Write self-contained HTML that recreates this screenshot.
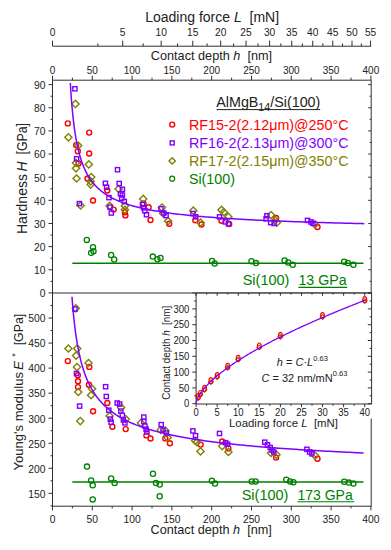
<!DOCTYPE html>
<html><head><meta charset="utf-8"><style>
html,body{margin:0;padding:0;background:#fff;width:391px;height:550px;overflow:hidden}
svg{display:block;font-family:"Liberation Sans",sans-serif}
</style></head><body>
<svg width="391" height="550" viewBox="0 0 391 550" font-family="Liberation Sans, sans-serif"><line x1="52.50" y1="46.20" x2="371.20" y2="46.20" stroke="#303030" stroke-width="1"/>
<line x1="52.50" y1="46.20" x2="52.50" y2="40.70" stroke="#303030" stroke-width="1"/>
<text x="52.50" y="36.20" font-size="10.2" fill="#222222" text-anchor="middle" >0</text>
<line x1="97.87" y1="46.20" x2="97.87" y2="43.40" stroke="#303030" stroke-width="1"/>
<line x1="122.71" y1="46.20" x2="122.71" y2="40.70" stroke="#303030" stroke-width="1"/>
<text x="122.71" y="36.20" font-size="10.2" fill="#222222" text-anchor="middle" >5</text>
<line x1="143.15" y1="46.20" x2="143.15" y2="43.40" stroke="#303030" stroke-width="1"/>
<line x1="161.16" y1="46.20" x2="161.16" y2="40.70" stroke="#303030" stroke-width="1"/>
<text x="161.16" y="36.20" font-size="10.2" fill="#222222" text-anchor="middle" >10</text>
<line x1="177.56" y1="46.20" x2="177.56" y2="43.40" stroke="#303030" stroke-width="1"/>
<line x1="192.78" y1="46.20" x2="192.78" y2="40.70" stroke="#303030" stroke-width="1"/>
<text x="192.78" y="36.20" font-size="10.2" fill="#222222" text-anchor="middle" >15</text>
<line x1="207.09" y1="46.20" x2="207.09" y2="43.40" stroke="#303030" stroke-width="1"/>
<line x1="220.66" y1="46.20" x2="220.66" y2="40.70" stroke="#303030" stroke-width="1"/>
<text x="220.66" y="36.20" font-size="10.2" fill="#222222" text-anchor="middle" >20</text>
<line x1="233.61" y1="46.20" x2="233.61" y2="43.40" stroke="#303030" stroke-width="1"/>
<line x1="246.04" y1="46.20" x2="246.04" y2="40.70" stroke="#303030" stroke-width="1"/>
<text x="246.04" y="36.20" font-size="10.2" fill="#222222" text-anchor="middle" >25</text>
<line x1="258.01" y1="46.20" x2="258.01" y2="43.40" stroke="#303030" stroke-width="1"/>
<line x1="269.59" y1="46.20" x2="269.59" y2="40.70" stroke="#303030" stroke-width="1"/>
<text x="269.59" y="36.20" font-size="10.2" fill="#222222" text-anchor="middle" >30</text>
<line x1="280.82" y1="46.20" x2="280.82" y2="43.40" stroke="#303030" stroke-width="1"/>
<line x1="291.74" y1="46.20" x2="291.74" y2="40.70" stroke="#303030" stroke-width="1"/>
<text x="291.74" y="36.20" font-size="10.2" fill="#222222" text-anchor="middle" >35</text>
<line x1="302.36" y1="46.20" x2="302.36" y2="43.40" stroke="#303030" stroke-width="1"/>
<line x1="312.73" y1="46.20" x2="312.73" y2="40.70" stroke="#303030" stroke-width="1"/>
<text x="312.73" y="36.20" font-size="10.2" fill="#222222" text-anchor="middle" >40</text>
<line x1="322.86" y1="46.20" x2="322.86" y2="43.40" stroke="#303030" stroke-width="1"/>
<line x1="332.78" y1="46.20" x2="332.78" y2="40.70" stroke="#303030" stroke-width="1"/>
<text x="332.78" y="36.20" font-size="10.2" fill="#222222" text-anchor="middle" >45</text>
<line x1="342.49" y1="46.20" x2="342.49" y2="43.40" stroke="#303030" stroke-width="1"/>
<line x1="352.01" y1="46.20" x2="352.01" y2="40.70" stroke="#303030" stroke-width="1"/>
<text x="352.01" y="36.20" font-size="10.2" fill="#222222" text-anchor="middle" >50</text>
<line x1="361.36" y1="46.20" x2="361.36" y2="43.40" stroke="#303030" stroke-width="1"/>
<line x1="370.55" y1="46.20" x2="370.55" y2="40.70" stroke="#303030" stroke-width="1"/>
<text x="370.55" y="36.20" font-size="10.2" fill="#222222" text-anchor="middle" >55</text>
<text x="145.20" y="21.90" font-size="14" fill="#222222" text-anchor="start" xml:space="preserve">Loading force <tspan font-style="italic">L</tspan>  [mN]</text>
<text x="150.80" y="60.20" font-size="12.7" fill="#222222" text-anchor="start" xml:space="preserve">Contact depth <tspan font-style="italic">h</tspan>  [nm]</text>
<line x1="52.50" y1="80.20" x2="52.50" y2="75.70" stroke="#303030" stroke-width="1"/>
<text x="52.50" y="73.80" font-size="10" fill="#222222" text-anchor="middle" >0</text>
<line x1="72.40" y1="80.20" x2="72.40" y2="77.70" stroke="#303030" stroke-width="1"/>
<line x1="92.30" y1="80.20" x2="92.30" y2="75.70" stroke="#303030" stroke-width="1"/>
<text x="92.30" y="73.80" font-size="10" fill="#222222" text-anchor="middle" >50</text>
<line x1="112.20" y1="80.20" x2="112.20" y2="77.70" stroke="#303030" stroke-width="1"/>
<line x1="132.10" y1="80.20" x2="132.10" y2="75.70" stroke="#303030" stroke-width="1"/>
<text x="132.10" y="73.80" font-size="10" fill="#222222" text-anchor="middle" >100</text>
<line x1="152.00" y1="80.20" x2="152.00" y2="77.70" stroke="#303030" stroke-width="1"/>
<line x1="171.90" y1="80.20" x2="171.90" y2="75.70" stroke="#303030" stroke-width="1"/>
<text x="171.90" y="73.80" font-size="10" fill="#222222" text-anchor="middle" >150</text>
<line x1="191.80" y1="80.20" x2="191.80" y2="77.70" stroke="#303030" stroke-width="1"/>
<line x1="211.70" y1="80.20" x2="211.70" y2="75.70" stroke="#303030" stroke-width="1"/>
<text x="211.70" y="73.80" font-size="10" fill="#222222" text-anchor="middle" >200</text>
<line x1="231.60" y1="80.20" x2="231.60" y2="77.70" stroke="#303030" stroke-width="1"/>
<line x1="251.50" y1="80.20" x2="251.50" y2="75.70" stroke="#303030" stroke-width="1"/>
<text x="251.50" y="73.80" font-size="10" fill="#222222" text-anchor="middle" >250</text>
<line x1="271.40" y1="80.20" x2="271.40" y2="77.70" stroke="#303030" stroke-width="1"/>
<line x1="291.30" y1="80.20" x2="291.30" y2="75.70" stroke="#303030" stroke-width="1"/>
<text x="291.30" y="73.80" font-size="10" fill="#222222" text-anchor="middle" >300</text>
<line x1="311.20" y1="80.20" x2="311.20" y2="77.70" stroke="#303030" stroke-width="1"/>
<line x1="331.10" y1="80.20" x2="331.10" y2="75.70" stroke="#303030" stroke-width="1"/>
<text x="331.10" y="73.80" font-size="10" fill="#222222" text-anchor="middle" >350</text>
<line x1="351.00" y1="80.20" x2="351.00" y2="77.70" stroke="#303030" stroke-width="1"/>
<line x1="370.90" y1="80.20" x2="370.90" y2="75.70" stroke="#303030" stroke-width="1"/>
<text x="370.90" y="73.80" font-size="10" fill="#222222" text-anchor="middle" >400</text>
<line x1="52.50" y1="506.20" x2="52.50" y2="510.40" stroke="#303030" stroke-width="1"/>
<text x="52.50" y="523.20" font-size="10.3" fill="#222222" text-anchor="middle" >0</text>
<line x1="72.40" y1="506.20" x2="72.40" y2="508.40" stroke="#303030" stroke-width="1"/>
<line x1="92.30" y1="506.20" x2="92.30" y2="510.40" stroke="#303030" stroke-width="1"/>
<text x="92.30" y="523.20" font-size="10.3" fill="#222222" text-anchor="middle" >50</text>
<line x1="112.20" y1="506.20" x2="112.20" y2="508.40" stroke="#303030" stroke-width="1"/>
<line x1="132.10" y1="506.20" x2="132.10" y2="510.40" stroke="#303030" stroke-width="1"/>
<text x="132.10" y="523.20" font-size="10.3" fill="#222222" text-anchor="middle" >100</text>
<line x1="152.00" y1="506.20" x2="152.00" y2="508.40" stroke="#303030" stroke-width="1"/>
<line x1="171.90" y1="506.20" x2="171.90" y2="510.40" stroke="#303030" stroke-width="1"/>
<text x="171.90" y="523.20" font-size="10.3" fill="#222222" text-anchor="middle" >150</text>
<line x1="191.80" y1="506.20" x2="191.80" y2="508.40" stroke="#303030" stroke-width="1"/>
<line x1="211.70" y1="506.20" x2="211.70" y2="510.40" stroke="#303030" stroke-width="1"/>
<text x="211.70" y="523.20" font-size="10.3" fill="#222222" text-anchor="middle" >200</text>
<line x1="231.60" y1="506.20" x2="231.60" y2="508.40" stroke="#303030" stroke-width="1"/>
<line x1="251.50" y1="506.20" x2="251.50" y2="510.40" stroke="#303030" stroke-width="1"/>
<text x="251.50" y="523.20" font-size="10.3" fill="#222222" text-anchor="middle" >250</text>
<line x1="271.40" y1="506.20" x2="271.40" y2="508.40" stroke="#303030" stroke-width="1"/>
<line x1="291.30" y1="506.20" x2="291.30" y2="510.40" stroke="#303030" stroke-width="1"/>
<text x="291.30" y="523.20" font-size="10.3" fill="#222222" text-anchor="middle" >300</text>
<line x1="311.20" y1="506.20" x2="311.20" y2="508.40" stroke="#303030" stroke-width="1"/>
<line x1="331.10" y1="506.20" x2="331.10" y2="510.40" stroke="#303030" stroke-width="1"/>
<text x="331.10" y="523.20" font-size="10.3" fill="#222222" text-anchor="middle" >350</text>
<line x1="351.00" y1="506.20" x2="351.00" y2="508.40" stroke="#303030" stroke-width="1"/>
<line x1="370.90" y1="506.20" x2="370.90" y2="510.40" stroke="#303030" stroke-width="1"/>
<text x="370.90" y="523.20" font-size="10.3" fill="#222222" text-anchor="middle" >400</text>
<text x="150.50" y="534.30" font-size="12.7" fill="#222222" text-anchor="start" xml:space="preserve">Contact depth <tspan font-style="italic">h</tspan>  [nm]</text>
<line x1="52.50" y1="292.90" x2="48.50" y2="292.90" stroke="#303030" stroke-width="1"/>
<line x1="371.20" y1="292.90" x2="368.20" y2="292.90" stroke="#303030" stroke-width="1"/>
<text x="45.40" y="297.20" font-size="10.3" fill="#222222" text-anchor="end" >0</text>
<line x1="52.50" y1="281.33" x2="50.50" y2="281.33" stroke="#303030" stroke-width="1"/>
<line x1="371.20" y1="281.33" x2="369.60" y2="281.33" stroke="#303030" stroke-width="1"/>
<line x1="52.50" y1="269.76" x2="48.50" y2="269.76" stroke="#303030" stroke-width="1"/>
<line x1="371.20" y1="269.76" x2="368.20" y2="269.76" stroke="#303030" stroke-width="1"/>
<text x="45.40" y="274.06" font-size="10.3" fill="#222222" text-anchor="end" >10</text>
<line x1="52.50" y1="258.19" x2="50.50" y2="258.19" stroke="#303030" stroke-width="1"/>
<line x1="371.20" y1="258.19" x2="369.60" y2="258.19" stroke="#303030" stroke-width="1"/>
<line x1="52.50" y1="246.62" x2="48.50" y2="246.62" stroke="#303030" stroke-width="1"/>
<line x1="371.20" y1="246.62" x2="368.20" y2="246.62" stroke="#303030" stroke-width="1"/>
<text x="45.40" y="250.92" font-size="10.3" fill="#222222" text-anchor="end" >20</text>
<line x1="52.50" y1="235.05" x2="50.50" y2="235.05" stroke="#303030" stroke-width="1"/>
<line x1="371.20" y1="235.05" x2="369.60" y2="235.05" stroke="#303030" stroke-width="1"/>
<line x1="52.50" y1="223.48" x2="48.50" y2="223.48" stroke="#303030" stroke-width="1"/>
<line x1="371.20" y1="223.48" x2="368.20" y2="223.48" stroke="#303030" stroke-width="1"/>
<text x="45.40" y="227.78" font-size="10.3" fill="#222222" text-anchor="end" >30</text>
<line x1="52.50" y1="211.91" x2="50.50" y2="211.91" stroke="#303030" stroke-width="1"/>
<line x1="371.20" y1="211.91" x2="369.60" y2="211.91" stroke="#303030" stroke-width="1"/>
<line x1="52.50" y1="200.34" x2="48.50" y2="200.34" stroke="#303030" stroke-width="1"/>
<line x1="371.20" y1="200.34" x2="368.20" y2="200.34" stroke="#303030" stroke-width="1"/>
<text x="45.40" y="204.64" font-size="10.3" fill="#222222" text-anchor="end" >40</text>
<line x1="52.50" y1="188.77" x2="50.50" y2="188.77" stroke="#303030" stroke-width="1"/>
<line x1="371.20" y1="188.77" x2="369.60" y2="188.77" stroke="#303030" stroke-width="1"/>
<line x1="52.50" y1="177.20" x2="48.50" y2="177.20" stroke="#303030" stroke-width="1"/>
<line x1="371.20" y1="177.20" x2="368.20" y2="177.20" stroke="#303030" stroke-width="1"/>
<text x="45.40" y="181.50" font-size="10.3" fill="#222222" text-anchor="end" >50</text>
<line x1="52.50" y1="165.63" x2="50.50" y2="165.63" stroke="#303030" stroke-width="1"/>
<line x1="371.20" y1="165.63" x2="369.60" y2="165.63" stroke="#303030" stroke-width="1"/>
<line x1="52.50" y1="154.06" x2="48.50" y2="154.06" stroke="#303030" stroke-width="1"/>
<line x1="371.20" y1="154.06" x2="368.20" y2="154.06" stroke="#303030" stroke-width="1"/>
<text x="45.40" y="158.36" font-size="10.3" fill="#222222" text-anchor="end" >60</text>
<line x1="52.50" y1="142.49" x2="50.50" y2="142.49" stroke="#303030" stroke-width="1"/>
<line x1="371.20" y1="142.49" x2="369.60" y2="142.49" stroke="#303030" stroke-width="1"/>
<line x1="52.50" y1="130.92" x2="48.50" y2="130.92" stroke="#303030" stroke-width="1"/>
<line x1="371.20" y1="130.92" x2="368.20" y2="130.92" stroke="#303030" stroke-width="1"/>
<text x="45.40" y="135.22" font-size="10.3" fill="#222222" text-anchor="end" >70</text>
<line x1="52.50" y1="119.35" x2="50.50" y2="119.35" stroke="#303030" stroke-width="1"/>
<line x1="371.20" y1="119.35" x2="369.60" y2="119.35" stroke="#303030" stroke-width="1"/>
<line x1="52.50" y1="107.78" x2="48.50" y2="107.78" stroke="#303030" stroke-width="1"/>
<line x1="371.20" y1="107.78" x2="368.20" y2="107.78" stroke="#303030" stroke-width="1"/>
<text x="45.40" y="112.08" font-size="10.3" fill="#222222" text-anchor="end" >80</text>
<line x1="52.50" y1="96.21" x2="50.50" y2="96.21" stroke="#303030" stroke-width="1"/>
<line x1="371.20" y1="96.21" x2="369.60" y2="96.21" stroke="#303030" stroke-width="1"/>
<line x1="52.50" y1="84.64" x2="48.50" y2="84.64" stroke="#303030" stroke-width="1"/>
<line x1="371.20" y1="84.64" x2="368.20" y2="84.64" stroke="#303030" stroke-width="1"/>
<text x="45.40" y="88.94" font-size="10.3" fill="#222222" text-anchor="end" >90</text>
<line x1="52.50" y1="305.52" x2="50.50" y2="305.52" stroke="#303030" stroke-width="1"/>
<line x1="52.50" y1="318.04" x2="48.50" y2="318.04" stroke="#303030" stroke-width="1"/>
<text x="45.40" y="322.34" font-size="10.3" fill="#222222" text-anchor="end" >500</text>
<line x1="52.50" y1="330.56" x2="50.50" y2="330.56" stroke="#303030" stroke-width="1"/>
<line x1="52.50" y1="343.08" x2="48.50" y2="343.08" stroke="#303030" stroke-width="1"/>
<text x="45.40" y="347.38" font-size="10.3" fill="#222222" text-anchor="end" >450</text>
<line x1="52.50" y1="355.60" x2="50.50" y2="355.60" stroke="#303030" stroke-width="1"/>
<line x1="52.50" y1="368.12" x2="48.50" y2="368.12" stroke="#303030" stroke-width="1"/>
<text x="45.40" y="372.42" font-size="10.3" fill="#222222" text-anchor="end" >400</text>
<line x1="52.50" y1="380.64" x2="50.50" y2="380.64" stroke="#303030" stroke-width="1"/>
<line x1="52.50" y1="393.16" x2="48.50" y2="393.16" stroke="#303030" stroke-width="1"/>
<text x="45.40" y="397.46" font-size="10.3" fill="#222222" text-anchor="end" >350</text>
<line x1="52.50" y1="405.68" x2="50.50" y2="405.68" stroke="#303030" stroke-width="1"/>
<line x1="52.50" y1="418.20" x2="48.50" y2="418.20" stroke="#303030" stroke-width="1"/>
<text x="45.40" y="422.50" font-size="10.3" fill="#222222" text-anchor="end" >300</text>
<line x1="52.50" y1="430.72" x2="50.50" y2="430.72" stroke="#303030" stroke-width="1"/>
<line x1="52.50" y1="443.24" x2="48.50" y2="443.24" stroke="#303030" stroke-width="1"/>
<text x="45.40" y="447.54" font-size="10.3" fill="#222222" text-anchor="end" >250</text>
<line x1="52.50" y1="455.76" x2="50.50" y2="455.76" stroke="#303030" stroke-width="1"/>
<line x1="52.50" y1="468.28" x2="48.50" y2="468.28" stroke="#303030" stroke-width="1"/>
<text x="45.40" y="472.58" font-size="10.3" fill="#222222" text-anchor="end" >200</text>
<line x1="52.50" y1="480.80" x2="50.50" y2="480.80" stroke="#303030" stroke-width="1"/>
<line x1="52.50" y1="493.32" x2="48.50" y2="493.32" stroke="#303030" stroke-width="1"/>
<text x="45.40" y="497.62" font-size="10.3" fill="#222222" text-anchor="end" >150</text>
<line x1="52.50" y1="505.84" x2="50.50" y2="505.84" stroke="#303030" stroke-width="1"/>
<g transform="translate(27.4,234.0) rotate(-90)" font-size="14" fill="#222222"><text x="0" y="0">Hardness</text><text x="62.4" y="0" font-style="italic">H</text><text x="79.5" y="0" textLength="31.5" lengthAdjust="spacingAndGlyphs">[GPa]</text></g>
<g transform="translate(23.3,470.5) rotate(-90)" font-size="13.5" fill="#222222"><text x="0" y="0" textLength="98.5" lengthAdjust="spacingAndGlyphs">Young&#39;s modulus</text><text x="100.6" y="0" font-style="italic">E</text><text x="113.8" y="-5" font-size="9">*</text><text x="125.2" y="0" textLength="31.5" lengthAdjust="spacingAndGlyphs">[GPa]</text></g>
<line x1="52.50" y1="80.20" x2="371.20" y2="80.20" stroke="#303030" stroke-width="1"/>
<line x1="52.50" y1="80.20" x2="52.50" y2="506.70" stroke="#303030" stroke-width="1"/>
<line x1="371.20" y1="80.20" x2="371.20" y2="506.70" stroke="#303030" stroke-width="1"/>
<line x1="52.50" y1="293.00" x2="371.20" y2="293.00" stroke="#303030" stroke-width="1"/>
<line x1="52.50" y1="506.20" x2="371.20" y2="506.20" stroke="#303030" stroke-width="1"/>
<line x1="72.30" y1="263.20" x2="363.50" y2="263.20" stroke="#008000" stroke-width="1.6"/>
<line x1="72.30" y1="482.00" x2="363.50" y2="482.00" stroke="#008000" stroke-width="1.6"/>
<circle cx="86.8" cy="239.9" r="2.6" fill="none" stroke="#008000" stroke-width="1.3"/>
<circle cx="93.0" cy="247.2" r="2.6" fill="none" stroke="#008000" stroke-width="1.3"/>
<circle cx="91.1" cy="252.9" r="2.6" fill="none" stroke="#008000" stroke-width="1.3"/>
<circle cx="93.5" cy="251.2" r="2.6" fill="none" stroke="#008000" stroke-width="1.3"/>
<circle cx="111.1" cy="255.0" r="2.6" fill="none" stroke="#008000" stroke-width="1.3"/>
<circle cx="114.2" cy="259.5" r="2.6" fill="none" stroke="#008000" stroke-width="1.3"/>
<circle cx="152.8" cy="256.6" r="2.6" fill="none" stroke="#008000" stroke-width="1.3"/>
<circle cx="157.4" cy="259.2" r="2.6" fill="none" stroke="#008000" stroke-width="1.3"/>
<circle cx="160.5" cy="257.9" r="2.6" fill="none" stroke="#008000" stroke-width="1.3"/>
<circle cx="212.1" cy="261.0" r="2.6" fill="none" stroke="#008000" stroke-width="1.3"/>
<circle cx="214.7" cy="263.5" r="2.6" fill="none" stroke="#008000" stroke-width="1.3"/>
<circle cx="251.5" cy="261.3" r="2.6" fill="none" stroke="#008000" stroke-width="1.3"/>
<circle cx="256.0" cy="263.1" r="2.6" fill="none" stroke="#008000" stroke-width="1.3"/>
<circle cx="284.6" cy="260.4" r="2.6" fill="none" stroke="#008000" stroke-width="1.3"/>
<circle cx="288.2" cy="262.5" r="2.6" fill="none" stroke="#008000" stroke-width="1.3"/>
<circle cx="292.7" cy="264.8" r="2.6" fill="none" stroke="#008000" stroke-width="1.3"/>
<circle cx="344.2" cy="261.7" r="2.6" fill="none" stroke="#008000" stroke-width="1.3"/>
<circle cx="347.9" cy="263.0" r="2.6" fill="none" stroke="#008000" stroke-width="1.3"/>
<circle cx="353.4" cy="264.8" r="2.6" fill="none" stroke="#008000" stroke-width="1.3"/>
<circle cx="87.0" cy="466.6" r="2.6" fill="none" stroke="#008000" stroke-width="1.3"/>
<circle cx="91.1" cy="480.4" r="2.6" fill="none" stroke="#008000" stroke-width="1.3"/>
<circle cx="92.7" cy="485.3" r="2.6" fill="none" stroke="#008000" stroke-width="1.3"/>
<circle cx="92.7" cy="499.4" r="2.6" fill="none" stroke="#008000" stroke-width="1.3"/>
<circle cx="111.1" cy="478.4" r="2.6" fill="none" stroke="#008000" stroke-width="1.3"/>
<circle cx="114.6" cy="483.0" r="2.6" fill="none" stroke="#008000" stroke-width="1.3"/>
<circle cx="153.0" cy="473.8" r="2.6" fill="none" stroke="#008000" stroke-width="1.3"/>
<circle cx="156.0" cy="483.0" r="2.6" fill="none" stroke="#008000" stroke-width="1.3"/>
<circle cx="159.7" cy="484.5" r="2.6" fill="none" stroke="#008000" stroke-width="1.3"/>
<circle cx="159.7" cy="496.2" r="2.6" fill="none" stroke="#008000" stroke-width="1.3"/>
<circle cx="211.9" cy="480.8" r="2.6" fill="none" stroke="#008000" stroke-width="1.3"/>
<circle cx="215.0" cy="483.6" r="2.6" fill="none" stroke="#008000" stroke-width="1.3"/>
<circle cx="251.7" cy="481.5" r="2.6" fill="none" stroke="#008000" stroke-width="1.3"/>
<circle cx="255.6" cy="481.5" r="2.6" fill="none" stroke="#008000" stroke-width="1.3"/>
<circle cx="286.3" cy="479.7" r="2.6" fill="none" stroke="#008000" stroke-width="1.3"/>
<circle cx="290.1" cy="481.5" r="2.6" fill="none" stroke="#008000" stroke-width="1.3"/>
<circle cx="293.4" cy="482.3" r="2.6" fill="none" stroke="#008000" stroke-width="1.3"/>
<circle cx="344.2" cy="481.7" r="2.6" fill="none" stroke="#008000" stroke-width="1.3"/>
<circle cx="348.8" cy="482.6" r="2.6" fill="none" stroke="#008000" stroke-width="1.3"/>
<circle cx="353.4" cy="483.5" r="2.6" fill="none" stroke="#008000" stroke-width="1.3"/>
<circle cx="67.8" cy="123.4" r="2.5" fill="none" stroke="#ff0000" stroke-width="1.4"/>
<circle cx="89.2" cy="132.6" r="2.5" fill="none" stroke="#ff0000" stroke-width="1.4"/>
<circle cx="76.1" cy="145.1" r="2.5" fill="none" stroke="#ff0000" stroke-width="1.4"/>
<circle cx="77.8" cy="151.2" r="2.5" fill="none" stroke="#ff0000" stroke-width="1.4"/>
<circle cx="89.2" cy="153.5" r="2.5" fill="none" stroke="#ff0000" stroke-width="1.4"/>
<circle cx="78.5" cy="163.5" r="2.5" fill="none" stroke="#ff0000" stroke-width="1.4"/>
<circle cx="87.5" cy="178.5" r="2.5" fill="none" stroke="#ff0000" stroke-width="1.4"/>
<circle cx="107.3" cy="190.5" r="2.5" fill="none" stroke="#ff0000" stroke-width="1.4"/>
<circle cx="93.0" cy="200.5" r="2.5" fill="none" stroke="#ff0000" stroke-width="1.4"/>
<circle cx="113.6" cy="209.6" r="2.5" fill="none" stroke="#ff0000" stroke-width="1.4"/>
<circle cx="124.9" cy="212.3" r="2.5" fill="none" stroke="#ff0000" stroke-width="1.4"/>
<circle cx="125.4" cy="215.4" r="2.5" fill="none" stroke="#ff0000" stroke-width="1.4"/>
<circle cx="143.5" cy="203.4" r="2.5" fill="none" stroke="#ff0000" stroke-width="1.4"/>
<circle cx="148.6" cy="207.2" r="2.5" fill="none" stroke="#ff0000" stroke-width="1.4"/>
<circle cx="150.5" cy="220.0" r="2.5" fill="none" stroke="#ff0000" stroke-width="1.4"/>
<circle cx="169.2" cy="223.7" r="2.5" fill="none" stroke="#ff0000" stroke-width="1.4"/>
<circle cx="195.3" cy="220.2" r="2.5" fill="none" stroke="#ff0000" stroke-width="1.4"/>
<circle cx="201.4" cy="224.5" r="2.5" fill="none" stroke="#ff0000" stroke-width="1.4"/>
<circle cx="221.5" cy="220.7" r="2.5" fill="none" stroke="#ff0000" stroke-width="1.4"/>
<circle cx="229.2" cy="224.1" r="2.5" fill="none" stroke="#ff0000" stroke-width="1.4"/>
<circle cx="276.1" cy="218.0" r="2.5" fill="none" stroke="#ff0000" stroke-width="1.4"/>
<circle cx="317.5" cy="227.0" r="2.5" fill="none" stroke="#ff0000" stroke-width="1.4"/>
<circle cx="67.8" cy="361.1" r="2.5" fill="none" stroke="#ff0000" stroke-width="1.4"/>
<circle cx="89.3" cy="366.9" r="2.5" fill="none" stroke="#ff0000" stroke-width="1.4"/>
<circle cx="77.8" cy="375.2" r="2.5" fill="none" stroke="#ff0000" stroke-width="1.4"/>
<circle cx="78.0" cy="381.2" r="2.5" fill="none" stroke="#ff0000" stroke-width="1.4"/>
<circle cx="78.0" cy="387.1" r="2.5" fill="none" stroke="#ff0000" stroke-width="1.4"/>
<circle cx="88.9" cy="384.8" r="2.5" fill="none" stroke="#ff0000" stroke-width="1.4"/>
<circle cx="93.1" cy="411.2" r="2.5" fill="none" stroke="#ff0000" stroke-width="1.4"/>
<circle cx="107.3" cy="403.0" r="2.5" fill="none" stroke="#ff0000" stroke-width="1.4"/>
<circle cx="112.4" cy="426.8" r="2.5" fill="none" stroke="#ff0000" stroke-width="1.4"/>
<circle cx="125.7" cy="429.1" r="2.5" fill="none" stroke="#ff0000" stroke-width="1.4"/>
<circle cx="146.4" cy="435.4" r="2.5" fill="none" stroke="#ff0000" stroke-width="1.4"/>
<circle cx="150.5" cy="438.5" r="2.5" fill="none" stroke="#ff0000" stroke-width="1.4"/>
<circle cx="165.3" cy="438.4" r="2.5" fill="none" stroke="#ff0000" stroke-width="1.4"/>
<circle cx="169.9" cy="443.2" r="2.5" fill="none" stroke="#ff0000" stroke-width="1.4"/>
<circle cx="200.7" cy="444.6" r="2.5" fill="none" stroke="#ff0000" stroke-width="1.4"/>
<circle cx="222.2" cy="441.5" r="2.5" fill="none" stroke="#ff0000" stroke-width="1.4"/>
<circle cx="228.4" cy="448.4" r="2.5" fill="none" stroke="#ff0000" stroke-width="1.4"/>
<circle cx="276.1" cy="457.6" r="2.5" fill="none" stroke="#ff0000" stroke-width="1.4"/>
<circle cx="317.5" cy="458.7" r="2.5" fill="none" stroke="#ff0000" stroke-width="1.4"/>
<path d="M75.5 100.3L79.1 103.9L75.5 107.5L71.9 103.9Z" fill="none" stroke="#808000" stroke-width="1.4"/>
<path d="M68.4 133.7L72.0 137.3L68.4 140.9L64.8 137.3Z" fill="none" stroke="#808000" stroke-width="1.4"/>
<path d="M78.2 141.9L81.8 145.5L78.2 149.1L74.6 145.5Z" fill="none" stroke="#808000" stroke-width="1.4"/>
<path d="M76.0 159.3L79.6 162.9L76.0 166.5L72.4 162.9Z" fill="none" stroke="#808000" stroke-width="1.4"/>
<path d="M76.0 164.7L79.6 168.3L76.0 171.9L72.4 168.3Z" fill="none" stroke="#808000" stroke-width="1.4"/>
<path d="M88.8 160.8L92.4 164.4L88.8 168.0L85.2 164.4Z" fill="none" stroke="#808000" stroke-width="1.4"/>
<path d="M76.6 174.9L80.2 178.5L76.6 182.1L73.0 178.5Z" fill="none" stroke="#808000" stroke-width="1.4"/>
<path d="M91.3 173.4L94.9 177.0L91.3 180.6L87.7 177.0Z" fill="none" stroke="#808000" stroke-width="1.4"/>
<path d="M90.7 177.8L94.3 181.4L90.7 185.0L87.1 181.4Z" fill="none" stroke="#808000" stroke-width="1.4"/>
<path d="M90.7 181.0L94.3 184.6L90.7 188.2L87.1 184.6Z" fill="none" stroke="#808000" stroke-width="1.4"/>
<path d="M80.6 201.9L84.2 205.5L80.6 209.1L77.0 205.5Z" fill="none" stroke="#808000" stroke-width="1.4"/>
<path d="M118.6 185.4L122.2 189.0L118.6 192.6L115.0 189.0Z" fill="none" stroke="#808000" stroke-width="1.4"/>
<path d="M124.9 202.3L128.5 205.9L124.9 209.5L121.3 205.9Z" fill="none" stroke="#808000" stroke-width="1.4"/>
<path d="M124.9 206.2L128.5 209.8L124.9 213.4L121.3 209.8Z" fill="none" stroke="#808000" stroke-width="1.4"/>
<path d="M109.6 202.3L113.2 205.9L109.6 209.5L106.0 205.9Z" fill="none" stroke="#808000" stroke-width="1.4"/>
<path d="M143.2 195.3L146.8 198.9L143.2 202.5L139.6 198.9Z" fill="none" stroke="#808000" stroke-width="1.4"/>
<path d="M162.0 204.0L165.6 207.6L162.0 211.2L158.4 207.6Z" fill="none" stroke="#808000" stroke-width="1.4"/>
<path d="M163.2 209.8L166.8 213.4L163.2 217.0L159.6 213.4Z" fill="none" stroke="#808000" stroke-width="1.4"/>
<path d="M168.1 217.5L171.7 221.1L168.1 224.7L164.5 221.1Z" fill="none" stroke="#808000" stroke-width="1.4"/>
<path d="M193.3 207.1L196.9 210.7L193.3 214.3L189.7 210.7Z" fill="none" stroke="#808000" stroke-width="1.4"/>
<path d="M200.6 219.1L204.2 222.7L200.6 226.3L197.0 222.7Z" fill="none" stroke="#808000" stroke-width="1.4"/>
<path d="M221.5 206.3L225.1 209.9L221.5 213.5L217.9 209.9Z" fill="none" stroke="#808000" stroke-width="1.4"/>
<path d="M223.8 208.6L227.4 212.2L223.8 215.8L220.2 212.2Z" fill="none" stroke="#808000" stroke-width="1.4"/>
<path d="M228.4 213.3L232.0 216.9L228.4 220.5L224.8 216.9Z" fill="none" stroke="#808000" stroke-width="1.4"/>
<path d="M271.0 211.4L274.6 215.0L271.0 218.6L267.4 215.0Z" fill="none" stroke="#808000" stroke-width="1.4"/>
<path d="M275.3 216.7L278.9 220.3L275.3 223.9L271.7 220.3Z" fill="none" stroke="#808000" stroke-width="1.4"/>
<path d="M276.9 219.0L280.5 222.6L276.9 226.2L273.3 222.6Z" fill="none" stroke="#808000" stroke-width="1.4"/>
<path d="M315.0 220.9L318.6 224.5L315.0 228.1L311.4 224.5Z" fill="none" stroke="#808000" stroke-width="1.4"/>
<path d="M75.8 304.7L79.4 308.3L75.8 311.9L72.2 308.3Z" fill="none" stroke="#808000" stroke-width="1.4"/>
<path d="M68.4 344.9L72.0 348.5L68.4 352.1L64.8 348.5Z" fill="none" stroke="#808000" stroke-width="1.4"/>
<path d="M77.2 345.0L80.8 348.6L77.2 352.2L73.6 348.6Z" fill="none" stroke="#808000" stroke-width="1.4"/>
<path d="M76.1 352.0L79.7 355.6L76.1 359.2L72.5 355.6Z" fill="none" stroke="#808000" stroke-width="1.4"/>
<path d="M88.5 359.4L92.1 363.0L88.5 366.6L84.9 363.0Z" fill="none" stroke="#808000" stroke-width="1.4"/>
<path d="M77.0 363.5L80.6 367.1L77.0 370.7L73.4 367.1Z" fill="none" stroke="#808000" stroke-width="1.4"/>
<path d="M78.3 388.4L81.9 392.0L78.3 395.6L74.7 392.0Z" fill="none" stroke="#808000" stroke-width="1.4"/>
<path d="M92.1 385.2L95.7 388.8L92.1 392.4L88.5 388.8Z" fill="none" stroke="#808000" stroke-width="1.4"/>
<path d="M91.1 391.6L94.7 395.2L91.1 398.8L87.5 395.2Z" fill="none" stroke="#808000" stroke-width="1.4"/>
<path d="M80.3 417.5L83.9 421.1L80.3 424.7L76.7 421.1Z" fill="none" stroke="#808000" stroke-width="1.4"/>
<path d="M109.6 412.4L113.2 416.0L109.6 419.6L106.0 416.0Z" fill="none" stroke="#808000" stroke-width="1.4"/>
<path d="M121.1 404.0L124.7 407.6L121.1 411.2L117.5 407.6Z" fill="none" stroke="#808000" stroke-width="1.4"/>
<path d="M125.7 415.5L129.3 419.1L125.7 422.7L122.1 419.1Z" fill="none" stroke="#808000" stroke-width="1.4"/>
<path d="M141.0 419.3L144.6 422.9L141.0 426.5L137.4 422.9Z" fill="none" stroke="#808000" stroke-width="1.4"/>
<path d="M160.7 426.3L164.3 429.9L160.7 433.5L157.1 429.9Z" fill="none" stroke="#808000" stroke-width="1.4"/>
<path d="M165.3 427.1L168.9 430.7L165.3 434.3L161.7 430.7Z" fill="none" stroke="#808000" stroke-width="1.4"/>
<path d="M167.6 434.0L171.2 437.6L167.6 441.2L164.0 437.6Z" fill="none" stroke="#808000" stroke-width="1.4"/>
<path d="M195.2 437.1L198.8 440.7L195.2 444.3L191.6 440.7Z" fill="none" stroke="#808000" stroke-width="1.4"/>
<path d="M196.9 438.6L200.5 442.2L196.9 445.8L193.3 442.2Z" fill="none" stroke="#808000" stroke-width="1.4"/>
<path d="M200.5 447.8L204.1 451.4L200.5 455.0L196.9 451.4Z" fill="none" stroke="#808000" stroke-width="1.4"/>
<path d="M222.2 442.5L225.8 446.1L222.2 449.7L218.6 446.1Z" fill="none" stroke="#808000" stroke-width="1.4"/>
<path d="M228.4 448.3L232.0 451.9L228.4 455.5L224.8 451.9Z" fill="none" stroke="#808000" stroke-width="1.4"/>
<path d="M271.0 449.4L274.6 453.0L271.0 456.6L267.4 453.0Z" fill="none" stroke="#808000" stroke-width="1.4"/>
<path d="M276.5 451.1L280.1 454.7L276.5 458.3L272.9 454.7Z" fill="none" stroke="#808000" stroke-width="1.4"/>
<path d="M315.0 452.0L318.6 455.6L315.0 459.2L311.4 455.6Z" fill="none" stroke="#808000" stroke-width="1.4"/>
<rect x="72.8" y="86.7" width="4.2" height="4.2" fill="none" stroke="#8000ff" stroke-width="1.4"/>
<rect x="74.5" y="156.7" width="4.2" height="4.2" fill="none" stroke="#8000ff" stroke-width="1.4"/>
<rect x="77.3" y="201.5" width="4.2" height="4.2" fill="none" stroke="#8000ff" stroke-width="1.4"/>
<rect x="103.3" y="181.2" width="4.2" height="4.2" fill="none" stroke="#8000ff" stroke-width="1.4"/>
<rect x="104.5" y="185.2" width="4.2" height="4.2" fill="none" stroke="#8000ff" stroke-width="1.4"/>
<rect x="106.9" y="195.5" width="4.2" height="4.2" fill="none" stroke="#8000ff" stroke-width="1.4"/>
<rect x="115.4" y="167.6" width="4.2" height="4.2" fill="none" stroke="#8000ff" stroke-width="1.4"/>
<rect x="117.1" y="181.4" width="4.2" height="4.2" fill="none" stroke="#8000ff" stroke-width="1.4"/>
<rect x="120.3" y="187.2" width="4.2" height="4.2" fill="none" stroke="#8000ff" stroke-width="1.4"/>
<rect x="118.4" y="191.7" width="4.2" height="4.2" fill="none" stroke="#8000ff" stroke-width="1.4"/>
<rect x="120.3" y="192.9" width="4.2" height="4.2" fill="none" stroke="#8000ff" stroke-width="1.4"/>
<rect x="119.6" y="196.1" width="4.2" height="4.2" fill="none" stroke="#8000ff" stroke-width="1.4"/>
<rect x="122.2" y="199.3" width="4.2" height="4.2" fill="none" stroke="#8000ff" stroke-width="1.4"/>
<rect x="107.9" y="205.1" width="4.2" height="4.2" fill="none" stroke="#8000ff" stroke-width="1.4"/>
<rect x="109.2" y="210.9" width="4.2" height="4.2" fill="none" stroke="#8000ff" stroke-width="1.4"/>
<rect x="140.4" y="202.3" width="4.2" height="4.2" fill="none" stroke="#8000ff" stroke-width="1.4"/>
<rect x="141.5" y="205.7" width="4.2" height="4.2" fill="none" stroke="#8000ff" stroke-width="1.4"/>
<rect x="142.7" y="208.6" width="4.2" height="4.2" fill="none" stroke="#8000ff" stroke-width="1.4"/>
<rect x="144.4" y="212.6" width="4.2" height="4.2" fill="none" stroke="#8000ff" stroke-width="1.4"/>
<rect x="158.9" y="206.7" width="4.2" height="4.2" fill="none" stroke="#8000ff" stroke-width="1.4"/>
<rect x="161.7" y="210.9" width="4.2" height="4.2" fill="none" stroke="#8000ff" stroke-width="1.4"/>
<rect x="164.0" y="213.5" width="4.2" height="4.2" fill="none" stroke="#8000ff" stroke-width="1.4"/>
<rect x="190.9" y="211.4" width="4.2" height="4.2" fill="none" stroke="#8000ff" stroke-width="1.4"/>
<rect x="193.6" y="214.7" width="4.2" height="4.2" fill="none" stroke="#8000ff" stroke-width="1.4"/>
<rect x="217.4" y="214.8" width="4.2" height="4.2" fill="none" stroke="#8000ff" stroke-width="1.4"/>
<rect x="223.2" y="219.8" width="4.2" height="4.2" fill="none" stroke="#8000ff" stroke-width="1.4"/>
<rect x="226.3" y="221.7" width="4.2" height="4.2" fill="none" stroke="#8000ff" stroke-width="1.4"/>
<rect x="264.8" y="213.6" width="4.2" height="4.2" fill="none" stroke="#8000ff" stroke-width="1.4"/>
<rect x="264.0" y="216.7" width="4.2" height="4.2" fill="none" stroke="#8000ff" stroke-width="1.4"/>
<rect x="268.6" y="220.5" width="4.2" height="4.2" fill="none" stroke="#8000ff" stroke-width="1.4"/>
<rect x="272.0" y="221.3" width="4.2" height="4.2" fill="none" stroke="#8000ff" stroke-width="1.4"/>
<rect x="305.4" y="218.3" width="4.2" height="4.2" fill="none" stroke="#8000ff" stroke-width="1.4"/>
<rect x="308.9" y="219.9" width="4.2" height="4.2" fill="none" stroke="#8000ff" stroke-width="1.4"/>
<rect x="310.8" y="221.3" width="4.2" height="4.2" fill="none" stroke="#8000ff" stroke-width="1.4"/>
<rect x="72.9" y="307.0" width="4.2" height="4.2" fill="none" stroke="#8000ff" stroke-width="1.4"/>
<rect x="74.4" y="371.4" width="4.2" height="4.2" fill="none" stroke="#8000ff" stroke-width="1.4"/>
<rect x="77.5" y="404.0" width="4.2" height="4.2" fill="none" stroke="#8000ff" stroke-width="1.4"/>
<rect x="103.5" y="384.6" width="4.2" height="4.2" fill="none" stroke="#8000ff" stroke-width="1.4"/>
<rect x="104.2" y="394.4" width="4.2" height="4.2" fill="none" stroke="#8000ff" stroke-width="1.4"/>
<rect x="106.7" y="408.1" width="4.2" height="4.2" fill="none" stroke="#8000ff" stroke-width="1.4"/>
<rect x="108.2" y="417.0" width="4.2" height="4.2" fill="none" stroke="#8000ff" stroke-width="1.4"/>
<rect x="109.0" y="420.1" width="4.2" height="4.2" fill="none" stroke="#8000ff" stroke-width="1.4"/>
<rect x="115.1" y="400.9" width="4.2" height="4.2" fill="none" stroke="#8000ff" stroke-width="1.4"/>
<rect x="117.5" y="402.0" width="4.2" height="4.2" fill="none" stroke="#8000ff" stroke-width="1.4"/>
<rect x="118.7" y="409.0" width="4.2" height="4.2" fill="none" stroke="#8000ff" stroke-width="1.4"/>
<rect x="120.2" y="413.2" width="4.2" height="4.2" fill="none" stroke="#8000ff" stroke-width="1.4"/>
<rect x="121.3" y="417.8" width="4.2" height="4.2" fill="none" stroke="#8000ff" stroke-width="1.4"/>
<rect x="122.8" y="420.8" width="4.2" height="4.2" fill="none" stroke="#8000ff" stroke-width="1.4"/>
<rect x="141.7" y="415.0" width="4.2" height="4.2" fill="none" stroke="#8000ff" stroke-width="1.4"/>
<rect x="141.7" y="419.4" width="4.2" height="4.2" fill="none" stroke="#8000ff" stroke-width="1.4"/>
<rect x="142.8" y="423.9" width="4.2" height="4.2" fill="none" stroke="#8000ff" stroke-width="1.4"/>
<rect x="144.0" y="427.1" width="4.2" height="4.2" fill="none" stroke="#8000ff" stroke-width="1.4"/>
<rect x="144.8" y="429.9" width="4.2" height="4.2" fill="none" stroke="#8000ff" stroke-width="1.4"/>
<rect x="159.1" y="422.5" width="4.2" height="4.2" fill="none" stroke="#8000ff" stroke-width="1.4"/>
<rect x="160.9" y="427.8" width="4.2" height="4.2" fill="none" stroke="#8000ff" stroke-width="1.4"/>
<rect x="164.3" y="430.9" width="4.2" height="4.2" fill="none" stroke="#8000ff" stroke-width="1.4"/>
<rect x="190.8" y="428.8" width="4.2" height="4.2" fill="none" stroke="#8000ff" stroke-width="1.4"/>
<rect x="193.4" y="433.6" width="4.2" height="4.2" fill="none" stroke="#8000ff" stroke-width="1.4"/>
<rect x="217.4" y="431.4" width="4.2" height="4.2" fill="none" stroke="#8000ff" stroke-width="1.4"/>
<rect x="223.5" y="440.6" width="4.2" height="4.2" fill="none" stroke="#8000ff" stroke-width="1.4"/>
<rect x="225.5" y="442.1" width="4.2" height="4.2" fill="none" stroke="#8000ff" stroke-width="1.4"/>
<rect x="262.7" y="440.1" width="4.2" height="4.2" fill="none" stroke="#8000ff" stroke-width="1.4"/>
<rect x="265.4" y="442.7" width="4.2" height="4.2" fill="none" stroke="#8000ff" stroke-width="1.4"/>
<rect x="268.1" y="445.4" width="4.2" height="4.2" fill="none" stroke="#8000ff" stroke-width="1.4"/>
<rect x="269.9" y="448.1" width="4.2" height="4.2" fill="none" stroke="#8000ff" stroke-width="1.4"/>
<rect x="271.7" y="449.9" width="4.2" height="4.2" fill="none" stroke="#8000ff" stroke-width="1.4"/>
<rect x="304.8" y="447.2" width="4.2" height="4.2" fill="none" stroke="#8000ff" stroke-width="1.4"/>
<rect x="307.5" y="449.9" width="4.2" height="4.2" fill="none" stroke="#8000ff" stroke-width="1.4"/>
<rect x="309.8" y="451.7" width="4.2" height="4.2" fill="none" stroke="#8000ff" stroke-width="1.4"/>
<path d="M70.33 83.00 L70.50 85.81 L70.75 89.81 L71.00 93.55 L71.25 97.07 L71.50 100.39 L71.75 103.51 L72.00 106.46 L72.25 109.25 L72.50 111.90 L72.75 114.42 L73.00 116.82 L73.25 119.10 L73.50 121.27 L73.75 123.35 L74.00 125.34 L74.25 127.24 L74.50 129.06 L74.75 130.81 L75.00 132.49 L75.25 134.10 L75.50 135.66 L75.75 137.15 L76.00 138.59 L76.25 139.99 L76.50 141.33 L76.75 142.62 L77.00 143.88 L77.25 145.09 L77.50 146.26 L77.75 147.40 L78.00 148.50 L78.25 149.56 L78.50 150.60 L78.75 151.60 L79.00 152.58 L79.25 153.53 L79.50 154.45 L79.75 155.34 L80.00 156.22 L80.25 157.06 L80.50 157.89 L80.75 158.70 L81.00 159.48 L81.25 160.24 L81.50 160.99 L81.75 161.72 L82.00 162.43 L82.25 163.12 L82.50 163.80 L82.75 164.46 L83.00 165.11 L83.25 165.74 L83.50 166.36 L83.75 166.96 L84.00 167.55 L84.25 168.13 L84.50 168.70 L84.75 169.26 L85.00 169.80 L85.25 170.33 L85.50 170.85 L85.75 171.36 L86.00 171.87 L86.25 172.36 L86.50 172.84 L86.75 173.31 L87.00 173.78 L87.25 174.23 L87.50 174.68 L87.75 175.12 L88.00 175.55 L88.25 175.98 L88.50 176.39 L88.75 176.80 L89.00 177.20 L89.25 177.60 L89.50 177.99 L89.75 178.37 L90.00 178.75 L90.25 179.11 L90.50 179.48 L90.75 179.84 L91.00 180.19 L91.25 180.53 L91.50 180.88 L91.75 181.21 L92.00 181.54 L92.25 181.87 L92.50 182.19 L92.75 182.50 L93.00 182.82 L93.25 183.12 L93.50 183.42 L93.75 183.72 L94.00 184.02 L94.25 184.31 L94.50 184.59 L94.75 184.87 L95.00 185.15 L95.25 185.42 L95.50 185.69 L95.75 185.96 L96.00 186.22 L96.25 186.48 L96.50 186.74 L96.75 186.99 L97.00 187.24 L97.25 187.48 L97.50 187.73 L97.75 187.97 L98.00 188.20 L98.25 188.44 L98.50 188.67 L98.75 188.90 L99.00 189.12 L99.25 189.34 L99.50 189.56 L99.75 189.78 L100.00 189.99 L102.00 191.62 L104.00 193.11 L106.00 194.47 L108.00 195.73 L110.00 196.90 L112.00 197.98 L114.00 198.98 L116.00 199.92 L118.00 200.80 L120.00 201.63 L122.00 202.41 L124.00 203.14 L126.00 203.83 L128.00 204.48 L130.00 205.10 L132.00 205.69 L134.00 206.25 L136.00 206.79 L138.00 207.30 L140.00 207.78 L142.00 208.25 L144.00 208.69 L146.00 209.12 L148.00 209.53 L150.00 209.92 L152.00 210.30 L154.00 210.66 L156.00 211.01 L158.00 211.34 L160.00 211.67 L162.00 211.98 L164.00 212.28 L166.00 212.58 L168.00 212.86 L170.00 213.13 L172.00 213.40 L174.00 213.65 L176.00 213.90 L178.00 214.14 L180.00 214.38 L182.00 214.61 L184.00 214.83 L186.00 215.04 L188.00 215.25 L190.00 215.45 L192.00 215.65 L194.00 215.84 L196.00 216.03 L198.00 216.21 L200.00 216.39 L202.00 216.57 L204.00 216.73 L206.00 216.90 L208.00 217.06 L210.00 217.22 L212.00 217.37 L214.00 217.52 L216.00 217.67 L218.00 217.81 L220.00 217.96 L222.00 218.09 L224.00 218.23 L226.00 218.36 L228.00 218.49 L230.00 218.62 L232.00 218.74 L234.00 218.86 L236.00 218.98 L238.00 219.10 L240.00 219.21 L242.00 219.32 L244.00 219.43 L246.00 219.54 L248.00 219.65 L250.00 219.75 L252.00 219.85 L254.00 219.95 L256.00 220.05 L258.00 220.15 L260.00 220.24 L262.00 220.34 L264.00 220.43 L266.00 220.52 L268.00 220.61 L270.00 220.70 L272.00 220.78 L274.00 220.87 L276.00 220.95 L278.00 221.03 L280.00 221.11 L282.00 221.19 L284.00 221.27 L286.00 221.35 L288.00 221.42 L290.00 221.50 L292.00 221.57 L294.00 221.64 L296.00 221.71 L298.00 221.78 L300.00 221.85 L302.00 221.92 L304.00 221.99 L306.00 222.05 L308.00 222.12 L310.00 222.18 L312.00 222.25 L314.00 222.31 L316.00 222.37 L318.00 222.43 L320.00 222.49 L322.00 222.55 L324.00 222.61 L326.00 222.67 L328.00 222.73 L330.00 222.78 L332.00 222.84 L334.00 222.89 L336.00 222.95 L338.00 223.00 L340.00 223.05 L342.00 223.11 L344.00 223.16 L346.00 223.21 L348.00 223.26 L350.00 223.31 L352.00 223.36 L354.00 223.41 L356.00 223.46 L358.00 223.50 L360.00 223.55 L362.00 223.60 L364.00 223.64 L364.30 223.65" fill="none" stroke="#8000ff" stroke-width="1.5" stroke-linejoin="round"/>
<path d="M72.00 296.80 L72.00 296.83 L72.25 300.20 L72.50 303.40 L72.75 306.43 L73.00 309.32 L73.25 312.07 L73.50 314.69 L73.75 317.20 L74.00 319.60 L74.25 321.90 L74.50 324.10 L74.75 326.21 L75.00 328.25 L75.25 330.20 L75.50 332.09 L75.75 333.90 L76.00 335.66 L76.25 337.35 L76.50 338.98 L76.75 340.56 L77.00 342.09 L77.25 343.57 L77.50 345.01 L77.75 346.40 L78.00 347.75 L78.25 349.06 L78.50 350.33 L78.75 351.57 L79.00 352.77 L79.25 353.94 L79.50 355.08 L79.75 356.19 L80.00 357.27 L80.25 358.33 L80.50 359.35 L80.75 360.36 L81.00 361.33 L81.25 362.29 L81.50 363.22 L81.75 364.13 L82.00 365.02 L82.25 365.89 L82.50 366.74 L82.75 367.58 L83.00 368.39 L83.25 369.19 L83.50 369.97 L83.75 370.73 L84.00 371.48 L84.25 372.22 L84.50 372.94 L84.75 373.64 L85.00 374.33 L85.25 375.01 L85.50 375.68 L85.75 376.33 L86.00 376.98 L86.25 377.61 L86.50 378.23 L86.75 378.83 L87.00 379.43 L87.25 380.02 L87.50 380.60 L87.75 381.16 L88.00 381.72 L88.25 382.27 L88.50 382.81 L88.75 383.34 L89.00 383.86 L89.25 384.38 L89.50 384.88 L89.75 385.38 L90.00 385.87 L90.25 386.35 L90.50 386.83 L90.75 387.30 L91.00 387.76 L91.25 388.21 L91.50 388.66 L91.75 389.10 L92.00 389.54 L92.25 389.97 L92.50 390.39 L92.75 390.81 L93.00 391.22 L93.25 391.63 L93.50 392.03 L93.75 392.43 L94.00 392.82 L94.25 393.20 L94.50 393.58 L94.75 393.96 L95.00 394.33 L95.25 394.69 L95.50 395.05 L95.75 395.41 L96.00 395.76 L96.25 396.11 L96.50 396.45 L96.75 396.79 L97.00 397.13 L97.25 397.46 L97.50 397.79 L97.75 398.11 L98.00 398.43 L98.25 398.75 L98.50 399.06 L98.75 399.37 L99.00 399.67 L99.25 399.97 L99.50 400.27 L99.75 400.57 L100.00 400.86 L102.00 403.09 L104.00 405.14 L106.00 407.03 L108.00 408.79 L110.00 410.43 L112.00 411.96 L114.00 413.39 L116.00 414.74 L118.00 416.01 L120.00 417.21 L122.00 418.34 L124.00 419.41 L126.00 420.43 L128.00 421.40 L130.00 422.32 L132.00 423.20 L134.00 424.04 L136.00 424.85 L138.00 425.62 L140.00 426.36 L142.00 427.07 L144.00 427.75 L146.00 428.40 L148.00 429.03 L150.00 429.64 L152.00 430.23 L154.00 430.80 L156.00 431.35 L158.00 431.87 L160.00 432.39 L162.00 432.88 L164.00 433.36 L166.00 433.83 L168.00 434.28 L170.00 434.72 L172.00 435.15 L174.00 435.56 L176.00 435.97 L178.00 436.36 L180.00 436.74 L182.00 437.11 L184.00 437.47 L186.00 437.83 L188.00 438.17 L190.00 438.51 L192.00 438.83 L194.00 439.15 L196.00 439.47 L198.00 439.77 L200.00 440.07 L202.00 440.36 L204.00 440.65 L206.00 440.92 L208.00 441.20 L210.00 441.46 L212.00 441.73 L214.00 441.98 L216.00 442.23 L218.00 442.48 L220.00 442.72 L222.00 442.96 L224.00 443.19 L226.00 443.41 L228.00 443.64 L230.00 443.86 L232.00 444.07 L234.00 444.28 L236.00 444.49 L238.00 444.69 L240.00 444.89 L242.00 445.09 L244.00 445.28 L246.00 445.47 L248.00 445.66 L250.00 445.84 L252.00 446.02 L254.00 446.20 L256.00 446.38 L258.00 446.55 L260.00 446.72 L262.00 446.88 L264.00 447.05 L266.00 447.21 L268.00 447.37 L270.00 447.53 L272.00 447.68 L274.00 447.83 L276.00 447.98 L278.00 448.13 L280.00 448.28 L282.00 448.42 L284.00 448.56 L286.00 448.70 L288.00 448.84 L290.00 448.97 L292.00 449.11 L294.00 449.24 L296.00 449.37 L298.00 449.50 L300.00 449.63 L302.00 449.75 L304.00 449.88 L306.00 450.00 L308.00 450.12 L310.00 450.24 L312.00 450.36 L314.00 450.47 L316.00 450.59 L318.00 450.70 L320.00 450.81 L322.00 450.92 L324.00 451.03 L326.00 451.14 L328.00 451.25 L330.00 451.36 L332.00 451.46 L334.00 451.56 L336.00 451.67 L338.00 451.77 L340.00 451.87 L342.00 451.97 L344.00 452.06 L346.00 452.16 L348.00 452.26 L350.00 452.35 L352.00 452.44 L354.00 452.54 L356.00 452.63 L358.00 452.72 L360.00 452.81 L362.00 452.90 L363.60 452.97" fill="none" stroke="#8000ff" stroke-width="1.5" stroke-linejoin="round"/>
<text transform="translate(216.30,107.20) scale(1,1.06)" x="0" y="0" font-size="14" fill="#222222" text-anchor="start" textLength="104" lengthAdjust="spacingAndGlyphs">AlMgB<tspan font-size="10.5" dy="3.8">14</tspan><tspan dy="-3.8">/Si(100)</tspan></text>
<line x1="216.60" y1="109.60" x2="320.20" y2="109.60" stroke="#222222" stroke-width="1"/>
<circle cx="172.2" cy="124.6" r="2.5" fill="none" stroke="#ff0000" stroke-width="1.4"/>
<text transform="translate(188.90,130.00) scale(1,1.06)" x="0" y="0" font-size="14" fill="#ff0000" text-anchor="start" textLength="159.6" lengthAdjust="spacingAndGlyphs">RF15-2(2.12&#956;m)@250&#176;C</text>
<rect x="170.2" y="140.9" width="4.0" height="4.0" fill="none" stroke="#8000ff" stroke-width="1.4"/>
<text transform="translate(188.90,148.30) scale(1,1.06)" x="0" y="0" font-size="14" fill="#8000ff" text-anchor="start" textLength="159.6" lengthAdjust="spacingAndGlyphs">RF16-2(2.13&#956;m)@300&#176;C</text>
<path d="M172.2 157.7L175.4 160.9L172.2 164.1L169.0 160.9Z" fill="none" stroke="#808000" stroke-width="1.4"/>
<text transform="translate(188.90,166.30) scale(1,1.06)" x="0" y="0" font-size="14" fill="#808000" text-anchor="start" textLength="159.6" lengthAdjust="spacingAndGlyphs">RF17-2(2.15&#956;m)@350&#176;C</text>
<circle cx="172.2" cy="178.7" r="2.5" fill="none" stroke="#008000" stroke-width="1.2"/>
<text transform="translate(188.90,184.10) scale(1,1.06)" x="0" y="0" font-size="14" fill="#008000" text-anchor="start" textLength="46" lengthAdjust="spacingAndGlyphs">Si(100)</text>
<text x="242.70" y="284.80" font-size="14.5" fill="#008000" text-anchor="start" >Si(100)</text>
<text x="298.40" y="284.80" font-size="14.3" fill="#008000" text-anchor="start" textLength="48.2" lengthAdjust="spacingAndGlyphs">13 GPa</text>
<line x1="298.40" y1="287.40" x2="347.20" y2="287.40" stroke="#008000" stroke-width="1.1"/>
<text x="241.70" y="499.60" font-size="14.5" fill="#008000" text-anchor="start" >Si(100)</text>
<text x="297.40" y="499.60" font-size="14.3" fill="#008000" text-anchor="start" textLength="55.3" lengthAdjust="spacingAndGlyphs">173 GPa</text>
<line x1="297.40" y1="501.80" x2="354.40" y2="501.80" stroke="#008000" stroke-width="1.1"/>
<rect x="192.2" y="293.6" width="198.8" height="125" fill="#ffffff"/>
<line x1="196.10" y1="293.00" x2="371.60" y2="293.00" stroke="#303030" stroke-width="1"/>
<line x1="196.10" y1="293.00" x2="196.10" y2="404.00" stroke="#303030" stroke-width="1"/>
<line x1="371.60" y1="293.00" x2="371.60" y2="404.00" stroke="#303030" stroke-width="1"/>
<line x1="196.10" y1="404.00" x2="371.60" y2="404.00" stroke="#303030" stroke-width="1"/>
<line x1="196.10" y1="404.00" x2="196.10" y2="407.20" stroke="#303030" stroke-width="1"/>
<line x1="196.10" y1="293.00" x2="196.10" y2="295.80" stroke="#303030" stroke-width="1"/>
<text transform="translate(196.10,415.80) scale(1,1.07)" x="0" y="0" font-size="9.5" fill="#222222" text-anchor="middle" >0</text>
<line x1="206.64" y1="404.00" x2="206.64" y2="405.80" stroke="#303030" stroke-width="1"/>
<line x1="206.64" y1="293.00" x2="206.64" y2="294.60" stroke="#303030" stroke-width="1"/>
<line x1="217.17" y1="404.00" x2="217.17" y2="407.20" stroke="#303030" stroke-width="1"/>
<line x1="217.17" y1="293.00" x2="217.17" y2="295.80" stroke="#303030" stroke-width="1"/>
<text transform="translate(217.17,415.80) scale(1,1.07)" x="0" y="0" font-size="9.5" fill="#222222" text-anchor="middle" >5</text>
<line x1="227.71" y1="404.00" x2="227.71" y2="405.80" stroke="#303030" stroke-width="1"/>
<line x1="227.71" y1="293.00" x2="227.71" y2="294.60" stroke="#303030" stroke-width="1"/>
<line x1="238.25" y1="404.00" x2="238.25" y2="407.20" stroke="#303030" stroke-width="1"/>
<line x1="238.25" y1="293.00" x2="238.25" y2="295.80" stroke="#303030" stroke-width="1"/>
<text transform="translate(238.25,415.80) scale(1,1.07)" x="0" y="0" font-size="9.5" fill="#222222" text-anchor="middle" >10</text>
<line x1="248.79" y1="404.00" x2="248.79" y2="405.80" stroke="#303030" stroke-width="1"/>
<line x1="248.79" y1="293.00" x2="248.79" y2="294.60" stroke="#303030" stroke-width="1"/>
<line x1="259.32" y1="404.00" x2="259.32" y2="407.20" stroke="#303030" stroke-width="1"/>
<line x1="259.32" y1="293.00" x2="259.32" y2="295.80" stroke="#303030" stroke-width="1"/>
<text transform="translate(259.32,415.80) scale(1,1.07)" x="0" y="0" font-size="9.5" fill="#222222" text-anchor="middle" >15</text>
<line x1="269.86" y1="404.00" x2="269.86" y2="405.80" stroke="#303030" stroke-width="1"/>
<line x1="269.86" y1="293.00" x2="269.86" y2="294.60" stroke="#303030" stroke-width="1"/>
<line x1="280.40" y1="404.00" x2="280.40" y2="407.20" stroke="#303030" stroke-width="1"/>
<line x1="280.40" y1="293.00" x2="280.40" y2="295.80" stroke="#303030" stroke-width="1"/>
<text transform="translate(280.40,415.80) scale(1,1.07)" x="0" y="0" font-size="9.5" fill="#222222" text-anchor="middle" >20</text>
<line x1="290.94" y1="404.00" x2="290.94" y2="405.80" stroke="#303030" stroke-width="1"/>
<line x1="290.94" y1="293.00" x2="290.94" y2="294.60" stroke="#303030" stroke-width="1"/>
<line x1="301.48" y1="404.00" x2="301.48" y2="407.20" stroke="#303030" stroke-width="1"/>
<line x1="301.48" y1="293.00" x2="301.48" y2="295.80" stroke="#303030" stroke-width="1"/>
<text transform="translate(301.48,415.80) scale(1,1.07)" x="0" y="0" font-size="9.5" fill="#222222" text-anchor="middle" >25</text>
<line x1="312.01" y1="404.00" x2="312.01" y2="405.80" stroke="#303030" stroke-width="1"/>
<line x1="312.01" y1="293.00" x2="312.01" y2="294.60" stroke="#303030" stroke-width="1"/>
<line x1="322.55" y1="404.00" x2="322.55" y2="407.20" stroke="#303030" stroke-width="1"/>
<line x1="322.55" y1="293.00" x2="322.55" y2="295.80" stroke="#303030" stroke-width="1"/>
<text transform="translate(322.55,415.80) scale(1,1.07)" x="0" y="0" font-size="9.5" fill="#222222" text-anchor="middle" >30</text>
<line x1="333.09" y1="404.00" x2="333.09" y2="405.80" stroke="#303030" stroke-width="1"/>
<line x1="333.09" y1="293.00" x2="333.09" y2="294.60" stroke="#303030" stroke-width="1"/>
<line x1="343.62" y1="404.00" x2="343.62" y2="407.20" stroke="#303030" stroke-width="1"/>
<line x1="343.62" y1="293.00" x2="343.62" y2="295.80" stroke="#303030" stroke-width="1"/>
<text transform="translate(343.62,415.80) scale(1,1.07)" x="0" y="0" font-size="9.5" fill="#222222" text-anchor="middle" >35</text>
<line x1="354.16" y1="404.00" x2="354.16" y2="405.80" stroke="#303030" stroke-width="1"/>
<line x1="354.16" y1="293.00" x2="354.16" y2="294.60" stroke="#303030" stroke-width="1"/>
<line x1="364.70" y1="404.00" x2="364.70" y2="407.20" stroke="#303030" stroke-width="1"/>
<line x1="364.70" y1="293.00" x2="364.70" y2="295.80" stroke="#303030" stroke-width="1"/>
<text transform="translate(364.70,415.80) scale(1,1.07)" x="0" y="0" font-size="9.5" fill="#222222" text-anchor="middle" >40</text>
<line x1="196.10" y1="403.70" x2="192.30" y2="403.70" stroke="#303030" stroke-width="1"/>
<line x1="371.60" y1="403.70" x2="367.80" y2="403.70" stroke="#303030" stroke-width="1"/>
<text transform="translate(189.40,407.30) scale(1,1.07)" x="0" y="0" font-size="9.5" fill="#222222" text-anchor="end" >0</text>
<line x1="196.10" y1="395.80" x2="194.10" y2="395.80" stroke="#303030" stroke-width="1"/>
<line x1="371.60" y1="395.80" x2="369.60" y2="395.80" stroke="#303030" stroke-width="1"/>
<line x1="196.10" y1="387.90" x2="192.30" y2="387.90" stroke="#303030" stroke-width="1"/>
<line x1="371.60" y1="387.90" x2="367.80" y2="387.90" stroke="#303030" stroke-width="1"/>
<text transform="translate(189.40,391.50) scale(1,1.07)" x="0" y="0" font-size="9.5" fill="#222222" text-anchor="end" >50</text>
<line x1="196.10" y1="380.00" x2="194.10" y2="380.00" stroke="#303030" stroke-width="1"/>
<line x1="371.60" y1="380.00" x2="369.60" y2="380.00" stroke="#303030" stroke-width="1"/>
<line x1="196.10" y1="372.10" x2="192.30" y2="372.10" stroke="#303030" stroke-width="1"/>
<line x1="371.60" y1="372.10" x2="367.80" y2="372.10" stroke="#303030" stroke-width="1"/>
<text transform="translate(189.40,375.70) scale(1,1.07)" x="0" y="0" font-size="9.5" fill="#222222" text-anchor="end" >100</text>
<line x1="196.10" y1="364.20" x2="194.10" y2="364.20" stroke="#303030" stroke-width="1"/>
<line x1="371.60" y1="364.20" x2="369.60" y2="364.20" stroke="#303030" stroke-width="1"/>
<line x1="196.10" y1="356.30" x2="192.30" y2="356.30" stroke="#303030" stroke-width="1"/>
<line x1="371.60" y1="356.30" x2="367.80" y2="356.30" stroke="#303030" stroke-width="1"/>
<text transform="translate(189.40,359.90) scale(1,1.07)" x="0" y="0" font-size="9.5" fill="#222222" text-anchor="end" >150</text>
<line x1="196.10" y1="348.40" x2="194.10" y2="348.40" stroke="#303030" stroke-width="1"/>
<line x1="371.60" y1="348.40" x2="369.60" y2="348.40" stroke="#303030" stroke-width="1"/>
<line x1="196.10" y1="340.50" x2="192.30" y2="340.50" stroke="#303030" stroke-width="1"/>
<line x1="371.60" y1="340.50" x2="367.80" y2="340.50" stroke="#303030" stroke-width="1"/>
<text transform="translate(189.40,344.10) scale(1,1.07)" x="0" y="0" font-size="9.5" fill="#222222" text-anchor="end" >200</text>
<line x1="196.10" y1="332.60" x2="194.10" y2="332.60" stroke="#303030" stroke-width="1"/>
<line x1="371.60" y1="332.60" x2="369.60" y2="332.60" stroke="#303030" stroke-width="1"/>
<line x1="196.10" y1="324.70" x2="192.30" y2="324.70" stroke="#303030" stroke-width="1"/>
<line x1="371.60" y1="324.70" x2="367.80" y2="324.70" stroke="#303030" stroke-width="1"/>
<text transform="translate(189.40,328.30) scale(1,1.07)" x="0" y="0" font-size="9.5" fill="#222222" text-anchor="end" >250</text>
<line x1="196.10" y1="316.80" x2="194.10" y2="316.80" stroke="#303030" stroke-width="1"/>
<line x1="371.60" y1="316.80" x2="369.60" y2="316.80" stroke="#303030" stroke-width="1"/>
<line x1="196.10" y1="308.90" x2="192.30" y2="308.90" stroke="#303030" stroke-width="1"/>
<line x1="371.60" y1="308.90" x2="367.80" y2="308.90" stroke="#303030" stroke-width="1"/>
<text transform="translate(189.40,312.50) scale(1,1.07)" x="0" y="0" font-size="9.5" fill="#222222" text-anchor="end" >300</text>
<line x1="196.10" y1="301.00" x2="194.10" y2="301.00" stroke="#303030" stroke-width="1"/>
<line x1="371.60" y1="301.00" x2="369.60" y2="301.00" stroke="#303030" stroke-width="1"/>
<line x1="196.10" y1="293.10" x2="192.30" y2="293.10" stroke="#303030" stroke-width="1"/>
<line x1="371.60" y1="293.10" x2="367.80" y2="293.10" stroke="#303030" stroke-width="1"/>
<text transform="translate(229.00,427.30) scale(1,1.07)" x="0" y="0" font-size="10.5" fill="#222222" text-anchor="start" textLength="109" lengthAdjust="spacingAndGlyphs" xml:space="preserve">Loading force <tspan font-style="italic">L</tspan>  [mN]</text>
<text transform="translate(170.4,399.8) rotate(-90) scale(1,1.07)" font-size="10.6" fill="#222222" textLength="94" lengthAdjust="spacingAndGlyphs" xml:space="preserve">Contact depth <tspan font-style="italic">h</tspan>  [nm]</text>
<text x="276.80" y="366.00" font-size="11" fill="#222222" text-anchor="start" ><tspan font-style="italic">h</tspan> = <tspan font-style="italic">C</tspan>&#183;<tspan font-style="italic">L</tspan><tspan font-size="7.5" dy="-5.5">0.63</tspan></text>
<text x="261.50" y="381.80" font-size="11" fill="#222222" text-anchor="start" ><tspan font-style="italic">C</tspan> = 32 nm/mN<tspan font-size="7.5" dy="-5.5">0.63</tspan></text>
<path d="M198.2 395.7L200.6 398.1L198.2 400.5L195.8 398.1Z" fill="none" stroke="#808000" stroke-width="1.1"/>
<ellipse cx="198.2" cy="396.7" rx="1.9" ry="3.0" fill="none" stroke="#ff0000" stroke-width="1.2"/>
<path d="M200.3 392.5L202.7 394.9L200.3 397.3L197.9 394.9Z" fill="none" stroke="#808000" stroke-width="1.1"/>
<ellipse cx="200.3" cy="393.5" rx="1.9" ry="3.0" fill="none" stroke="#ff0000" stroke-width="1.2"/>
<path d="M204.5 387.4L206.9 389.8L204.5 392.2L202.1 389.8Z" fill="none" stroke="#808000" stroke-width="1.1"/>
<ellipse cx="204.5" cy="388.4" rx="1.9" ry="3.0" fill="none" stroke="#ff0000" stroke-width="1.2"/>
<path d="M210.9 379.7L213.3 382.1L210.9 384.5L208.5 382.1Z" fill="none" stroke="#808000" stroke-width="1.1"/>
<ellipse cx="210.9" cy="380.7" rx="1.9" ry="3.0" fill="none" stroke="#ff0000" stroke-width="1.2"/>
<path d="M217.2 374.6L219.6 377.0L217.2 379.4L214.8 377.0Z" fill="none" stroke="#808000" stroke-width="1.1"/>
<ellipse cx="217.2" cy="375.6" rx="1.9" ry="3.0" fill="none" stroke="#ff0000" stroke-width="1.2"/>
<path d="M227.7 365.4L230.1 367.8L227.7 370.2L225.3 367.8Z" fill="none" stroke="#808000" stroke-width="1.1"/>
<ellipse cx="227.7" cy="366.4" rx="1.9" ry="3.0" fill="none" stroke="#ff0000" stroke-width="1.2"/>
<path d="M238.2 357.3L240.7 359.7L238.2 362.1L235.8 359.7Z" fill="none" stroke="#808000" stroke-width="1.1"/>
<ellipse cx="238.2" cy="358.3" rx="1.9" ry="3.0" fill="none" stroke="#ff0000" stroke-width="1.2"/>
<path d="M259.3 345.0L261.7 347.4L259.3 349.8L256.9 347.4Z" fill="none" stroke="#808000" stroke-width="1.1"/>
<ellipse cx="259.3" cy="346.0" rx="1.9" ry="3.0" fill="none" stroke="#ff0000" stroke-width="1.2"/>
<path d="M280.4 334.3L282.8 336.7L280.4 339.1L278.0 336.7Z" fill="none" stroke="#808000" stroke-width="1.1"/>
<ellipse cx="280.4" cy="335.3" rx="1.9" ry="3.0" fill="none" stroke="#ff0000" stroke-width="1.2"/>
<path d="M322.5 314.6L324.9 317.0L322.5 319.4L320.1 317.0Z" fill="none" stroke="#808000" stroke-width="1.1"/>
<ellipse cx="322.5" cy="315.6" rx="1.9" ry="3.0" fill="none" stroke="#ff0000" stroke-width="1.2"/>
<path d="M364.7 298.7L367.1 301.1L364.7 303.5L362.3 301.1Z" fill="none" stroke="#808000" stroke-width="1.1"/>
<ellipse cx="364.7" cy="299.7" rx="1.9" ry="3.0" fill="none" stroke="#ff0000" stroke-width="1.2"/>
<path d="M196.10 403.70 L196.10 403.57 L196.12 403.39 L196.14 403.18 L196.17 402.95 L196.21 402.71 L196.25 402.45 L196.31 402.18 L196.37 401.90 L196.44 401.61 L196.52 401.32 L196.61 401.01 L196.71 400.70 L196.82 400.39 L196.93 400.06 L197.06 399.73 L197.19 399.39 L197.33 399.05 L197.48 398.71 L197.63 398.35 L197.80 398.00 L197.97 397.63 L198.16 397.27 L198.35 396.90 L198.55 396.52 L198.75 396.14 L198.97 395.76 L199.20 395.37 L199.43 394.98 L199.67 394.59 L199.92 394.19 L200.18 393.79 L200.45 393.39 L200.72 392.98 L201.01 392.57 L201.30 392.15 L201.60 391.74 L201.91 391.32 L202.23 390.89 L202.56 390.47 L202.89 390.04 L203.24 389.61 L203.59 389.17 L203.95 388.74 L204.32 388.30 L204.70 387.85 L205.09 387.41 L205.48 386.96 L205.88 386.51 L206.30 386.06 L206.72 385.60 L207.15 385.15 L207.58 384.69 L208.03 384.23 L208.48 383.76 L208.95 383.29 L209.42 382.83 L209.90 382.36 L210.39 381.88 L210.88 381.41 L211.39 380.93 L211.90 380.45 L212.42 379.97 L212.95 379.49 L213.49 379.00 L214.04 378.51 L214.60 378.03 L215.16 377.53 L215.74 377.04 L216.32 376.55 L216.91 376.05 L217.51 375.55 L218.11 375.05 L218.73 374.55 L219.35 374.04 L219.99 373.54 L220.63 373.03 L221.28 372.52 L221.94 372.01 L222.60 371.50 L223.28 370.98 L223.96 370.47 L224.65 369.95 L225.35 369.43 L226.06 368.91 L226.78 368.39 L227.51 367.86 L228.24 367.34 L228.99 366.81 L229.74 366.28 L230.50 365.75 L231.27 365.22 L232.04 364.68 L232.83 364.15 L233.62 363.61 L234.43 363.07 L235.24 362.53 L236.06 361.99 L236.88 361.45 L237.72 360.91 L238.57 360.36 L239.42 359.81 L240.28 359.27 L241.15 358.72 L242.03 358.17 L242.92 357.61 L243.81 357.06 L244.72 356.50 L245.63 355.95 L246.55 355.39 L247.48 354.83 L248.42 354.27 L249.37 353.71 L250.32 353.15 L251.29 352.58 L252.26 352.02 L253.24 351.45 L254.23 350.88 L255.23 350.31 L256.24 349.74 L257.25 349.17 L258.27 348.59 L259.31 348.02 L260.35 347.44 L261.40 346.87 L262.45 346.29 L263.52 345.71 L264.59 345.13 L265.68 344.55 L266.77 343.97 L267.87 343.38 L268.98 342.80 L270.09 342.21 L271.22 341.62 L272.35 341.03 L273.49 340.44 L274.65 339.85 L275.80 339.26 L276.97 338.67 L278.15 338.07 L279.33 337.48 L280.53 336.88 L281.73 336.28 L282.94 335.68 L284.16 335.09 L285.39 334.48 L286.62 333.88 L287.87 333.28 L289.12 332.68 L290.38 332.07 L291.65 331.46 L292.93 330.86 L294.21 330.25 L295.51 329.64 L296.81 329.03 L298.12 328.42 L299.45 327.80 L300.77 327.19 L302.11 326.58 L303.46 325.96 L304.81 325.34 L306.18 324.73 L307.55 324.11 L308.93 323.49 L310.32 322.87 L311.71 322.25 L313.12 321.62 L314.53 321.00 L315.96 320.38 L317.39 319.75 L318.83 319.12 L320.28 318.50 L321.73 317.87 L323.20 317.24 L324.67 316.61 L326.15 315.98 L327.64 315.35 L329.14 314.71 L330.65 314.08 L332.17 313.44 L333.69 312.81 L335.22 312.17 L336.76 311.53 L338.31 310.90 L339.87 310.26 L341.44 309.62 L343.02 308.97 L344.60 308.33 L346.19 307.69 L347.79 307.05 L349.40 306.40 L351.02 305.75 L352.65 305.11 L354.28 304.46 L355.93 303.81 L357.58 303.16 L359.24 302.51 L360.91 301.86 L362.58 301.21 L364.27 300.56 L365.96 299.90" fill="none" stroke="#8000ff" stroke-width="1.3" stroke-linejoin="round"/></svg>
</body></html>
